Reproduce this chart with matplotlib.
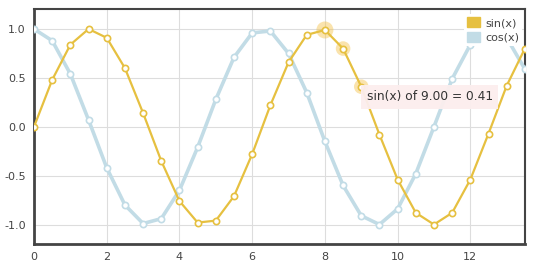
import matplotlib.pyplot as plt
from matplotlib.patches import Patch

# valores (passo de 0.5)
x = [0, 0.5, 1, 1.5, 2, 2.5, 3, 3.5, 4, 4.5, 5, 5.5, 6, 6.5, 7, 7.5,
     8, 8.5, 9, 9.5, 10, 10.5, 11, 11.5, 12, 12.5, 13, 13.5]
sin_y = [0.00, 0.48, 0.84, 1.00, 0.91, 0.60, 0.14, -0.35, -0.76, -0.98,
         -0.96, -0.71, -0.28, 0.22, 0.66, 0.94, 0.99, 0.80, 0.41, -0.08,
         -0.54, -0.88, -1.00, -0.88, -0.54, -0.07, 0.42, 0.80]
cos_y = [1.00, 0.88, 0.54, 0.07, -0.42, -0.80, -0.99, -0.94, -0.65, -0.21,
         0.28, 0.71, 0.96, 0.98, 0.75, 0.35, -0.15, -0.60, -0.91, -1.00,
         -0.84, -0.48, 0.00, 0.49, 0.84, 1.00, 0.91, 0.59]

# pontos destacados (hover)
hl_x = [8, 8.5, 9]
hl_y = [0.99, 0.80, 0.41]

sin_cor = '#E6C040'
cos_cor = '#C2DCE6'

fig = plt.figure(figsize=(5.4, 2.7), dpi=100)
ax = fig.add_axes([0.063, 0.096, 0.909, 0.869])

ax.plot(x, cos_y, color=cos_cor, lw=2.6, marker='o', ms=4.5,
        mfc='white', mec=cos_cor, mew=1.2, zorder=3, label='cos(x)')
ax.plot(x, sin_y, color=sin_cor, lw=1.6, marker='o', ms=4.5,
        mfc='white', mec=sin_cor, mew=1.2, zorder=4, label='sin(x)')
ax.scatter(hl_x, hl_y, s=[150, 110, 110], color='#F5C24A', alpha=0.45,
           lw=0, zorder=3.5)

ax.text(9.15, 0.27, 'sin(x) of 9.00 = 0.41', fontsize=8.8, color='#333333',
        zorder=6, bbox=dict(boxstyle='square,pad=0.45', fc='#FCEEEE',
                            ec='none', alpha=0.95))

ax.set_xlim(0, 13.5)
ax.set_ylim(-1.2, 1.2)
ax.set_xticks([0, 2, 4, 6, 8, 10, 12])
ax.set_yticks([-1.0, -0.5, 0.0, 0.5, 1.0])
ax.set_yticklabels(['-1.0', '-0.5', '0.0', '0.5', '1.0'])
ax.grid(color='#DDDDDD', lw=0.8)
ax.set_axisbelow(True)
ax.tick_params(length=0, labelsize=8, colors='#444444', pad=6)
for s in ax.spines.values():
    s.set_color('#444444')
    s.set_linewidth(1.5)
ax.spines['left'].set_linewidth(2)
ax.spines['bottom'].set_linewidth(2)

handles = [Patch(color=sin_cor), Patch(color=cos_cor)]
leg = ax.legend(handles, ['sin(x)', 'cos(x)'], loc='upper right',
                bbox_to_anchor=(0.995, 0.98), fontsize=8, frameon=True,
                handlelength=1.1, handleheight=1.0, handletextpad=0.5,
                labelspacing=0.35, borderpad=0.3, borderaxespad=0)
leg.get_frame().set_edgecolor('none')
leg.get_frame().set_facecolor('white')
leg.get_frame().set_alpha(1)
leg.set_zorder(5)
for t in leg.get_texts():
    t.set_color('#444444')

plt.savefig('out.png')
